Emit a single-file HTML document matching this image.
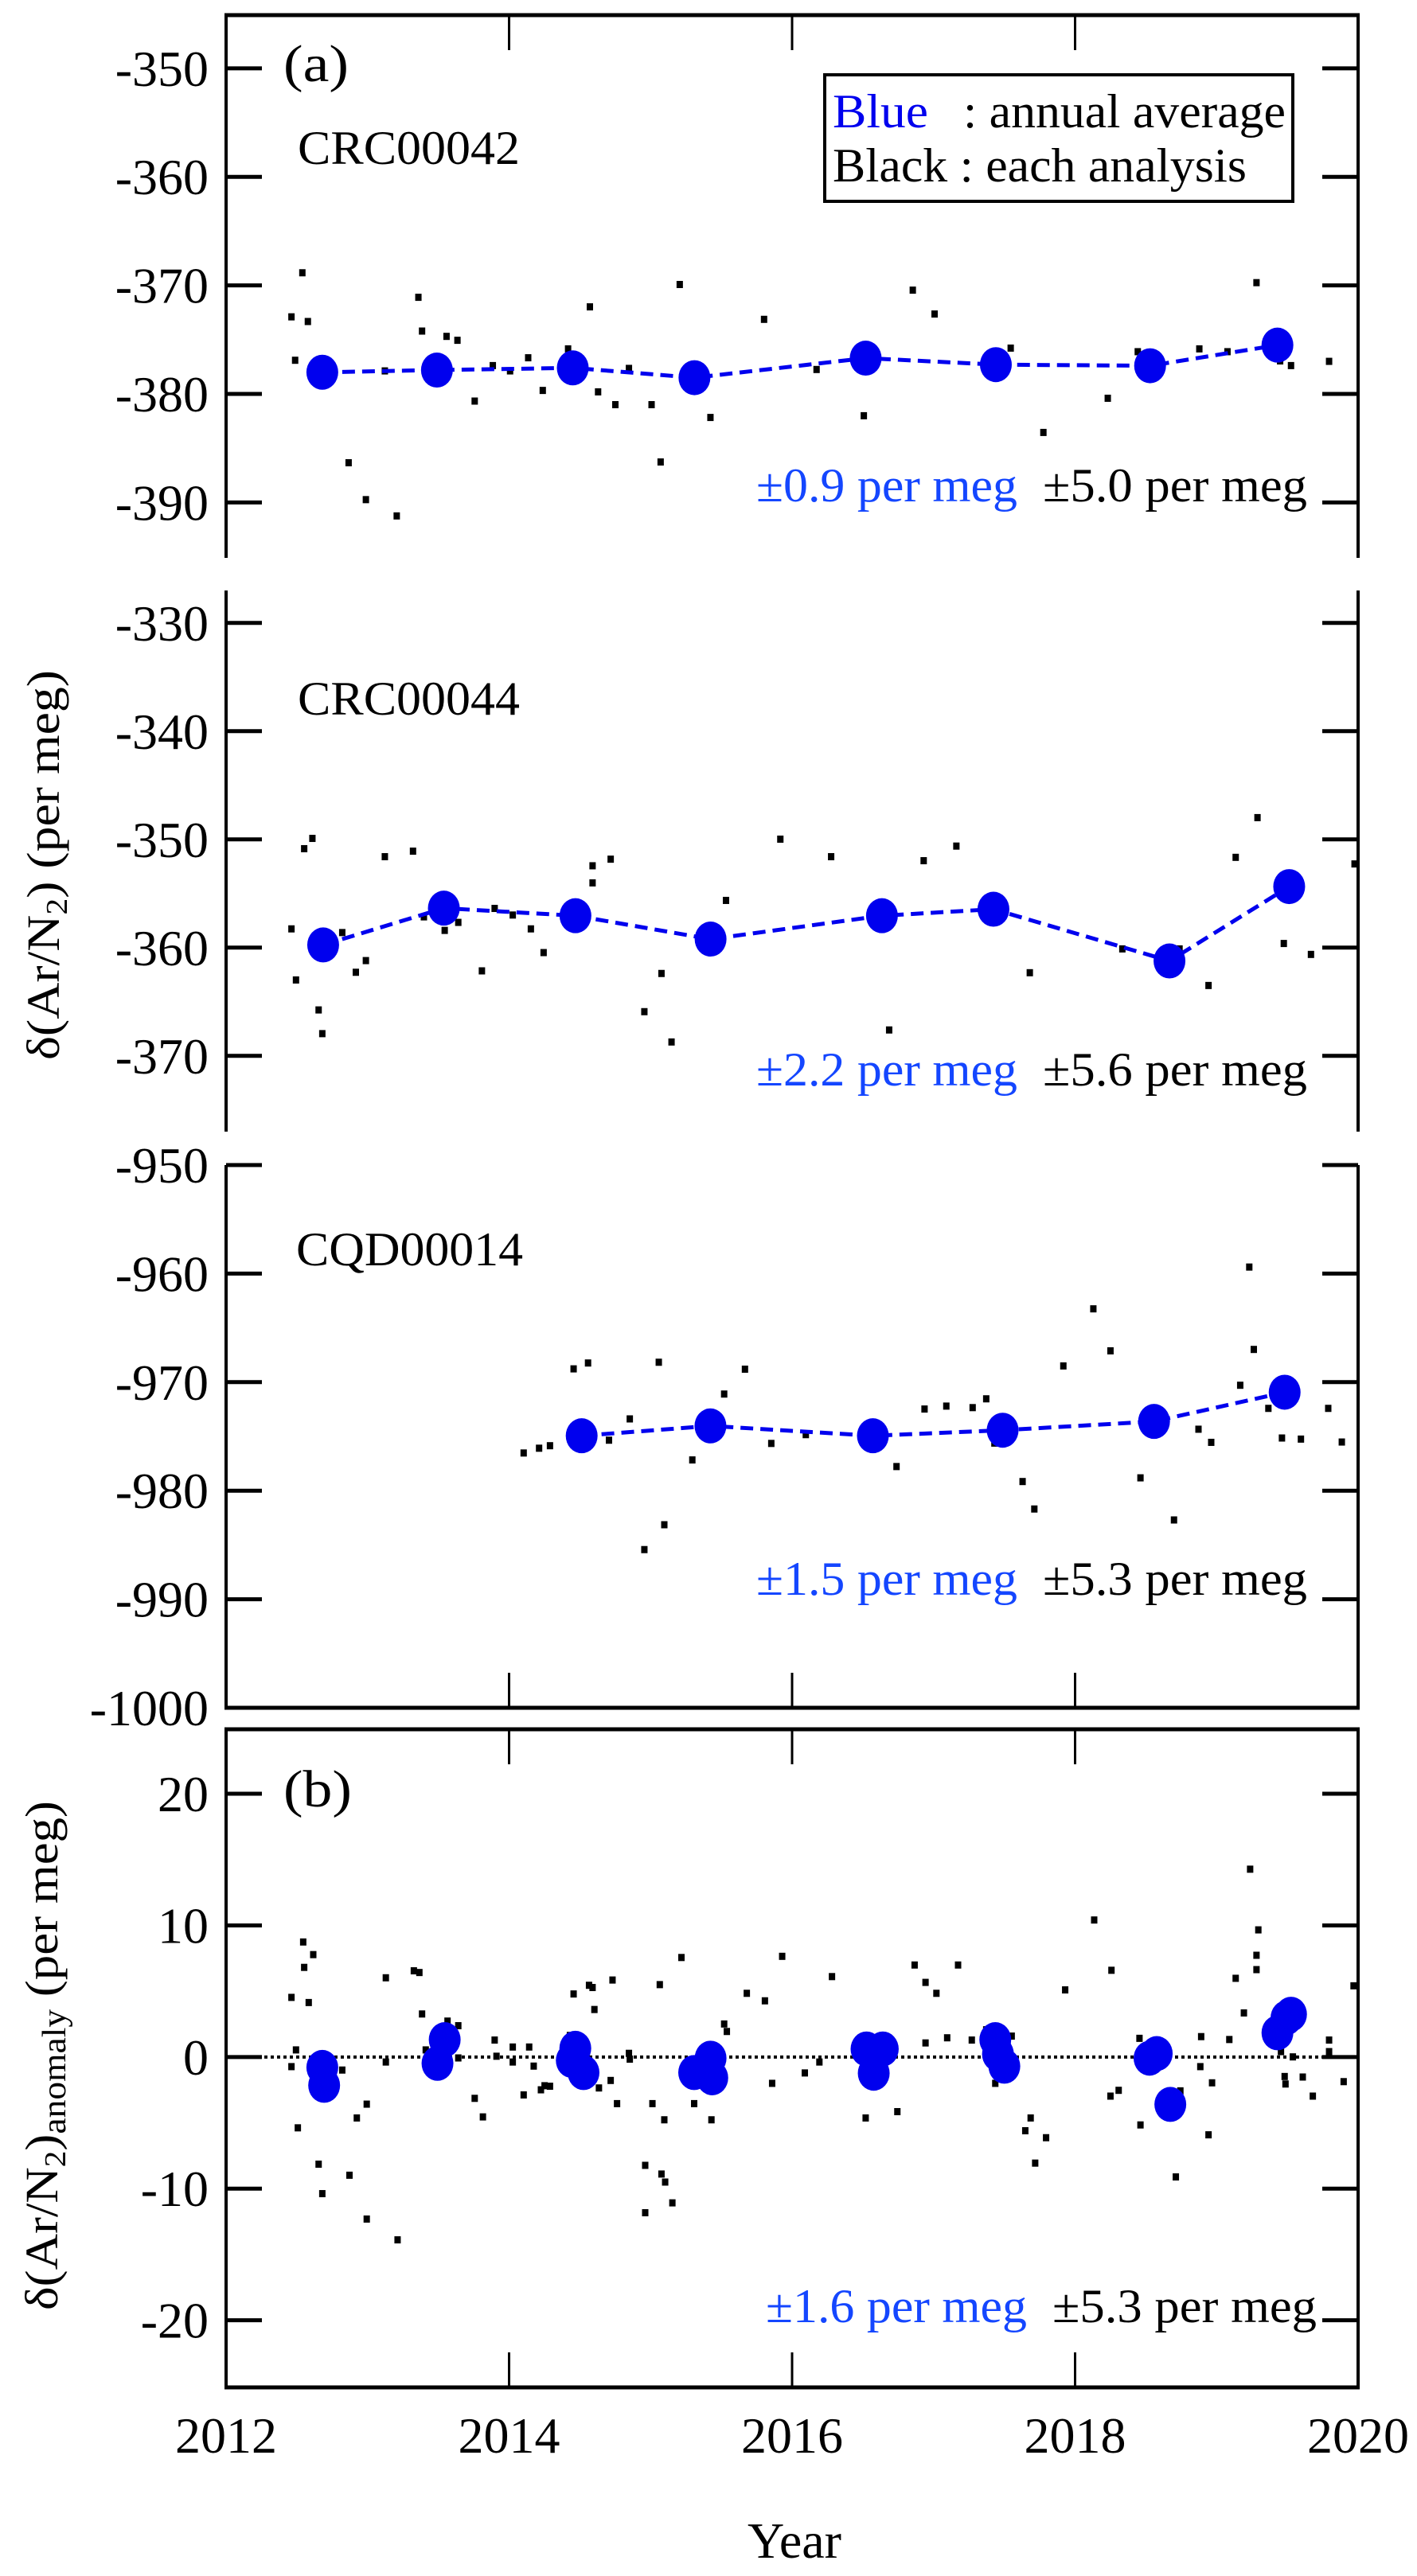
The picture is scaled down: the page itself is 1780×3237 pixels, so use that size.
<!DOCTYPE html>
<html><head><meta charset="utf-8">
<style>
html,body{margin:0;padding:0;background:#fff;}
svg{display:block;font-family:"Liberation Serif","DejaVu Serif",serif;}
</style></head>
<body>
<svg id="chart" width="1780" height="3237" viewBox="0 0 1780 3237" xmlns="http://www.w3.org/2000/svg"></svg>
<script>
// ---------- data ----------
const xTickYears = [2012, 2014, 2016, 2018, 2020];
const xTickLabels = ["2012", "2014", "2016", "2018", "2020"];

const s1Ticks = [-350, -360, -370, -380, -390];
const s1MeanYears = [2012.68, 2013.49, 2014.45, 2015.31, 2016.52, 2017.44, 2018.53, 2019.43];
const s1MeanVals = [-378.0, -377.8, -377.6, -378.5, -376.7, -377.3, -377.4, -375.5];
const s1Years = [2012.539,2012.462,2012.578,2012.488,2012.763,2012.712,2013.122,2012.866,2012.988,2013.206,2013.359,2013.385,2013.558,2013.635,2013.757,2013.885,2014.007,2014.135,2014.238,2014.417,2014.481,2014.571,2014.629,2014.751,2014.847,2015.007,2015.071,2015.206,2015.423,2015.802,2016.173,2016.507,2016.853,2017.007,2017.545,2017.776,2018.231,2018.443,2018.878,2019.077,2019.282,2019.449,2019.526,2019.795];
const s1Vals = [-368.8,-372.86,-373.29,-376.86,-378.10,-378.27,-377.84,-386.3,-389.7,-391.2,-371.06,-374.17,-374.66,-375.02,-380.62,-377.35,-377.84,-376.63,-379.64,-375.81,-378.27,-371.94,-379.77,-380.95,-377.61,-380.95,-386.23,-369.88,-382.13,-373.09,-377.71,-381.97,-370.40,-372.60,-375.74,-383.51,-380.36,-376.07,-375.81,-376.07,-369.71,-376.92,-377.35,-376.96];

const s2Ticks = [-330, -340, -350, -360, -370];
const s2MeanYears = [2012.686, 2013.539, 2014.469, 2015.424, 2016.635, 2017.423, 2018.667, 2019.513];
const s2MeanVals = [-359.75, -356.35, -357.05, -359.21, -357.05, -356.45, -361.23, -354.36];
const s2Years = [2012.462,2012.552,2012.610,2012.494,2012.654,2012.680,2012.821,2012.917,2012.988,2013.122,2013.321,2013.398,2013.545,2013.641,2013.808,2013.898,2014.026,2014.154,2014.244,2014.430,2014.481,2014.590,2014.590,2014.718,2014.956,2015.077,2015.148,2015.533,2015.917,2016.276,2016.686,2016.930,2017.161,2017.680,2018.334,2018.738,2018.943,2019.135,2019.289,2019.475,2019.667,2019.975];
const s2Vals = [-358.23,-350.82,-349.87,-362.95,-365.72,-367.91,-358.57,-362.24,-361.16,-351.56,-351.05,-357.12,-358.37,-357.63,-362.11,-356.34,-356.95,-358.23,-360.42,-356.88,-356.68,-352.40,-353.98,-351.79,-365.88,-362.35,-368.68,-355.60,-349.94,-351.56,-367.57,-351.93,-350.58,-362.28,-360.08,-360.08,-363.46,-351.62,-347.95,-359.58,-360.59,-352.23];

const s3Ticks = [-950, -960, -970, -980, -990, -1000];
const s3MeanYears = [2014.513, 2015.423, 2016.571, 2017.488, 2018.558, 2019.481];
const s3MeanVals = [-974.94, -974.03, -974.94, -974.43, -973.62, -970.93];
const s3Years = [2014.103,2014.212,2014.289,2014.456,2014.558,2014.706,2014.853,2014.956,2015.058,2015.097,2015.295,2015.520,2015.667,2015.853,2016.097,2016.526,2016.738,2016.936,2017.090,2017.276,2017.372,2017.430,2017.629,2017.712,2017.917,2018.129,2018.250,2018.462,2018.699,2018.872,2018.962,2019.167,2019.231,2019.263,2019.366,2019.462,2019.596,2019.789,2019.885];
const s3Vals = [-976.49,-976.05,-975.82,-968.74,-968.20,-975.31,-973.35,-985.39,-968.13,-983.10,-977.13,-971.06,-968.77,-975.61,-974.80,-974.70,-977.74,-972.44,-972.17,-972.31,-971.50,-975.58,-979.12,-981.65,-968.47,-963.21,-967.08,-978.78,-982.66,-974.30,-975.51,-970.25,-959.36,-966.95,-972.38,-975.11,-975.21,-972.38,-975.48];

const bTicks = [20, 10, 0, -10, -20];
const bMeanYears = [2012.680,2012.693,2013.494,2013.545,2014.468,2014.443,2014.526,2015.308,2015.424,2015.436,2016.526,2016.641,2016.577,2017.436,2017.455,2017.500,2018.526,2018.577,2018.673,2019.430,2019.494,2019.526];
const bMeanVals = [-0.79,-2.15,-0.48,1.32,0.66,-0.26,-1.18,-1.18,-0.09,-1.58,0.61,0.61,-1.23,1.32,0.22,-0.70,-0.09,0.26,-3.60,1.84,2.98,3.25];
const bYears = [2012.462,2012.494,2012.462,2012.507,2012.545,2012.552,2012.584,2012.616,2012.654,2012.680,2012.821,2012.872,2012.924,2012.994,2012.994,2013.129,2013.129,2013.212,2013.327,2013.366,2013.385,2013.411,2013.565,2013.641,2013.641,2013.757,2013.815,2013.898,2013.911,2014.026,2014.026,2014.103,2014.142,2014.174,2014.225,2014.251,2014.289,2014.430,2014.456,2014.565,2014.590,2014.603,2014.635,2014.718,2014.731,2014.763,2014.847,2014.853,2014.962,2014.962,2015.013,2015.065,2015.077,2015.097,2015.103,2015.154,2015.218,2015.308,2015.430,2015.520,2015.539,2015.680,2015.808,2015.859,2015.930,2016.090,2016.193,2016.282,2016.520,2016.744,2016.866,2016.943,2016.943,2017.020,2017.096,2017.173,2017.270,2017.372,2017.436,2017.552,2017.648,2017.686,2017.718,2017.795,2017.930,2018.135,2018.257,2018.308,2018.250,2018.455,2018.462,2018.712,2018.744,2018.885,2018.891,2018.943,2018.968,2019.090,2019.135,2019.193,2019.237,2019.282,2019.282,2019.295,2019.455,2019.481,2019.487,2019.539,2019.609,2019.680,2019.795,2019.795,2019.898,2019.968];
const bVals = [4.56,0.57,-0.70,-5.35,8.77,6.84,4.17,7.81,-8.11,-10.35,-0.96,-8.95,-4.60,-3.55,-12.28,6.05,-0.35,-13.86,6.58,6.45,3.30,0.57,2.76,2.41,-0.04,-3.11,-4.52,1.32,0.09,0.79,-0.35,-2.85,0.79,-0.66,-2.46,-2.15,-2.19,1.67,4.82,5.48,5.31,3.64,-2.32,-1.75,5.88,-3.51,0.31,-0.13,-8.20,-11.80,-3.51,5.53,-8.86,-4.74,-9.47,-11.05,7.59,-3.51,-4.74,2.54,1.97,4.87,4.30,-1.97,7.68,-1.18,-0.35,6.14,-4.60,-4.12,7.02,1.10,5.70,4.87,1.49,7.02,1.32,2.10,-1.97,1.62,-5.57,-4.60,-8.03,-6.10,5.13,10.44,6.62,-2.50,-2.94,1.45,-5.13,-9.08,-2.54,-0.70,1.58,-5.88,-1.93,1.36,6.01,3.38,14.30,7.76,6.67,9.69,0.44,-1.45,-2.02,0.04,-1.49,-2.94,1.32,0.44,-1.84,5.44];

// ---------- layout ----------
const svg = document.getElementById('chart');
const NS = 'http://www.w3.org/2000/svg';
const X0 = 284, X1 = 1706;
const xs = y => X0 + (y - 2012) / 8 * (X1 - X0);
function mkY(top, bot, vTop, vBot){ return v => top + (vTop - v) / (vTop - vBot) * (bot - top); }
const y1 = mkY(19, 701, -345.1, -395.1);
const y2 = mkY(742, 1422, -327, -377);
const y3 = mkY(1464, 2146, -950, -1000);
const yb = mkY(2173, 3000, 24.9, -25.1);

function el(tag, attrs, parent){
  const e = document.createElementNS(NS, tag);
  for (const k in attrs) e.setAttribute(k, attrs[k]);
  (parent || svg).appendChild(e);
  return e;
}
function txt(str, x, y, size, fill, anchor, parent){
  const t = el('text', {x:x, y:y, 'font-size':size, fill:fill||'#000', 'text-anchor':anchor||'start'}, parent);
  t.textContent = str;
  return t;
}
function fitTxt(str, x, y, size, fill, len, parent){
  const t = el('text', {x:x, y:y, 'font-size':size, fill:fill, textLength:len, lengthAdjust:'spacingAndGlyphs'}, parent);
  t.textContent = str;
  return t;
}
const BLUE = '#0000ee', BLUE_T = '#1446ff';

function yAxis(g, ys, ticks, top, bot, name){
  const l = el('line', {x1:X0, y1:top, x2:X0, y2:bot, stroke:'#000', 'stroke-width':4}, g);
  
  
  const r = el('line', {x1:X1, y1:top, x2:X1, y2:bot, stroke:'#000', 'stroke-width':4}, g);
  
  
  ticks.forEach(v => {
    const yy = ys(v);
    const a = el('line', {x1:X0, y1:yy, x2:X0+45, y2:yy, stroke:'#000', 'stroke-width':5}, g);
    
    
    const b = el('line', {x1:X1-45, y1:yy, x2:X1, y2:yy, stroke:'#000', 'stroke-width':5}, g);
    
    
    const t = txt(String(v), 262, yy + 22, 64, '#000', 'end', g);
    
    
  });
}
function hLine(g, y, name, tickDir){
  const l = el('line', {x1:X0-2, y1:y, x2:X1+2, y2:y, stroke:'#000', 'stroke-width':5}, g);
  
  
  xTickYears.slice(1, -1).forEach(yr => {
    const t = el('line', {x1:xs(yr), y1:y, x2:xs(yr), y2:y + tickDir*44, stroke:'#000', 'stroke-width':3}, g);
    
    
  });
}
function points(g, yrs, vals, ys, name){
  yrs.forEach((yr, i) => {
    const p = el('rect', {x:xs(yr)-4, y:ys(vals[i])-4, width:8, height:9, fill:'#000'}, g);
    
    
  });
}
function means(g, yrs, vals, ys, name, line){
  if (line){
    const d = yrs.map((yr,i) => (i?'L':'M') + xs(yr).toFixed(1) + ',' + ys(vals[i]).toFixed(1)).join(' ');
    const p = el('path', {d:d, fill:'none', stroke:BLUE, 'stroke-width':5, 'stroke-dasharray':'16 9'}, g);
    
    
  }
  yrs.forEach((yr, i) => {
    const c = el('ellipse', {cx:xs(yr), cy:ys(vals[i]), rx:20, ry:22, fill:BLUE}, g);
    
    
  });
}
function stats(g, y, bx, blueStr, blackStr, name){
  const a = fitTxt(blueStr, bx, y, 60, BLUE_T, 328, g);
  
  
  const b = fitTxt(blackStr, bx + 360, y, 60, '#000', 332, g);
  
  
}

// ----- panel a -----
const ga = el('g', {});


hLine(ga, 19, 'panel-a-top-border', 1);
hLine(ga, 2146, 'panel-a-bottom-border', -1);

const g1 = el('g', {}, ga);


yAxis(g1, y1, s1Ticks, 17, 701, 'crc00042');
points(g1, s1Years, s1Vals, y1, 'crc00042-analysis-point');
means(g1, s1MeanYears, s1MeanVals, y1, 'crc00042-annual-average', true);
let t = fitTxt('(a)', 356, 102, 66, '#000', 82, g1);
 
t = fitTxt('CRC00042', 374, 206, 60, '#000', 279, g1);
 
stats(g1, 630, 950, '±0.9 per meg', '±5.0 per meg', 'crc00042-stats');

const lg = el('g', {}, g1);


const lr = el('rect', {x:1036, y:94, width:588, height:159, fill:'#fff', stroke:'#000', 'stroke-width':4}, lg);


t = fitTxt('Blue', 1046, 160, 60, BLUE, 120, lg);
 
t = fitTxt(': annual average', 1210, 160, 60, '#000', 405, lg);
 
t = fitTxt('Black : each analysis', 1046, 228, 60, '#000', 520, lg);
 

const g2 = el('g', {}, ga);


yAxis(g2, y2, s2Ticks, 742, 1422, 'crc00044');
points(g2, s2Years, s2Vals, y2, 'crc00044-analysis-point');
means(g2, s2MeanYears, s2MeanVals, y2, 'crc00044-annual-average', true);
t = fitTxt('CRC00044', 374, 898, 60, '#000', 279, g2);
 
stats(g2, 1364, 950, '±2.2 per meg', '±5.6 per meg', 'crc00044-stats');

const g3 = el('g', {}, ga);


yAxis(g3, y3, s3Ticks, 1464, 2148, 'cqd00014');
points(g3, s3Years, s3Vals, y3, 'cqd00014-analysis-point');
means(g3, s3MeanYears, s3MeanVals, y3, 'cqd00014-annual-average', true);
t = fitTxt('CQD00014', 372, 1590, 60, '#000', 285, g3);
 
stats(g3, 2004, 950, '±1.5 per meg', '±5.3 per meg', 'cqd00014-stats');

// y title a
const ta = el('text', {transform:'translate(74,1087) rotate(-90)', 'font-size':58, 'text-anchor':'middle', textLength:490, lengthAdjust:'spacingAndGlyphs'});


let s = el('tspan', {}, ta); s.textContent = 'δ(Ar/N';
s = el('tspan', {'font-size':38, dy:10}, ta); s.textContent = '2';
s = el('tspan', {dy:-10}, ta); s.textContent = ')   (per meg)';

// ----- panel b -----
const gb = el('g', {});


yAxis(gb, yb, bTicks, 2171, 3002, 'anomaly');
hLine(gb, 2173, 'panel-b-top-border', 1);
hLine(gb, 3000, 'panel-b-bottom-border', -1);
const zl = el('line', {x1:X0, y1:yb(0), x2:X1, y2:yb(0), stroke:'#000', 'stroke-width':4, 'stroke-dasharray':'4 4'}, gb);


points(gb, bYears, bVals, yb, 'anomaly-analysis-point');
means(gb, bMeanYears, bMeanVals, yb, 'anomaly-annual-average', false);
t = fitTxt('(b)', 356, 2270, 66, '#000', 86, gb);
 
stats(gb, 2918, 962, '±1.6 per meg', '±5.3 per meg', 'anomaly-stats');

const tb = el('text', {transform:'translate(72,2583) rotate(-90)', 'font-size':58, 'text-anchor':'middle', textLength:640, lengthAdjust:'spacingAndGlyphs'});


s = el('tspan', {}, tb); s.textContent = 'δ(Ar/N';
s = el('tspan', {'font-size':38, dy:10}, tb); s.textContent = '2';
s = el('tspan', {dy:-10}, tb); s.textContent = ')';
s = el('tspan', {'font-size':42, dy:10}, tb); s.textContent = 'anomaly';
s = el('tspan', {dy:-10}, tb); s.textContent = '   (per meg)';

// x labels
xTickYears.forEach((yr, i) => {
  const l = txt(xTickLabels[i], xs(yr), 3082, 64, '#000', 'middle');
  
  
});
t = txt('Year', 998, 3214, 64, '#000', 'middle');
 
</script>
</body></html>
